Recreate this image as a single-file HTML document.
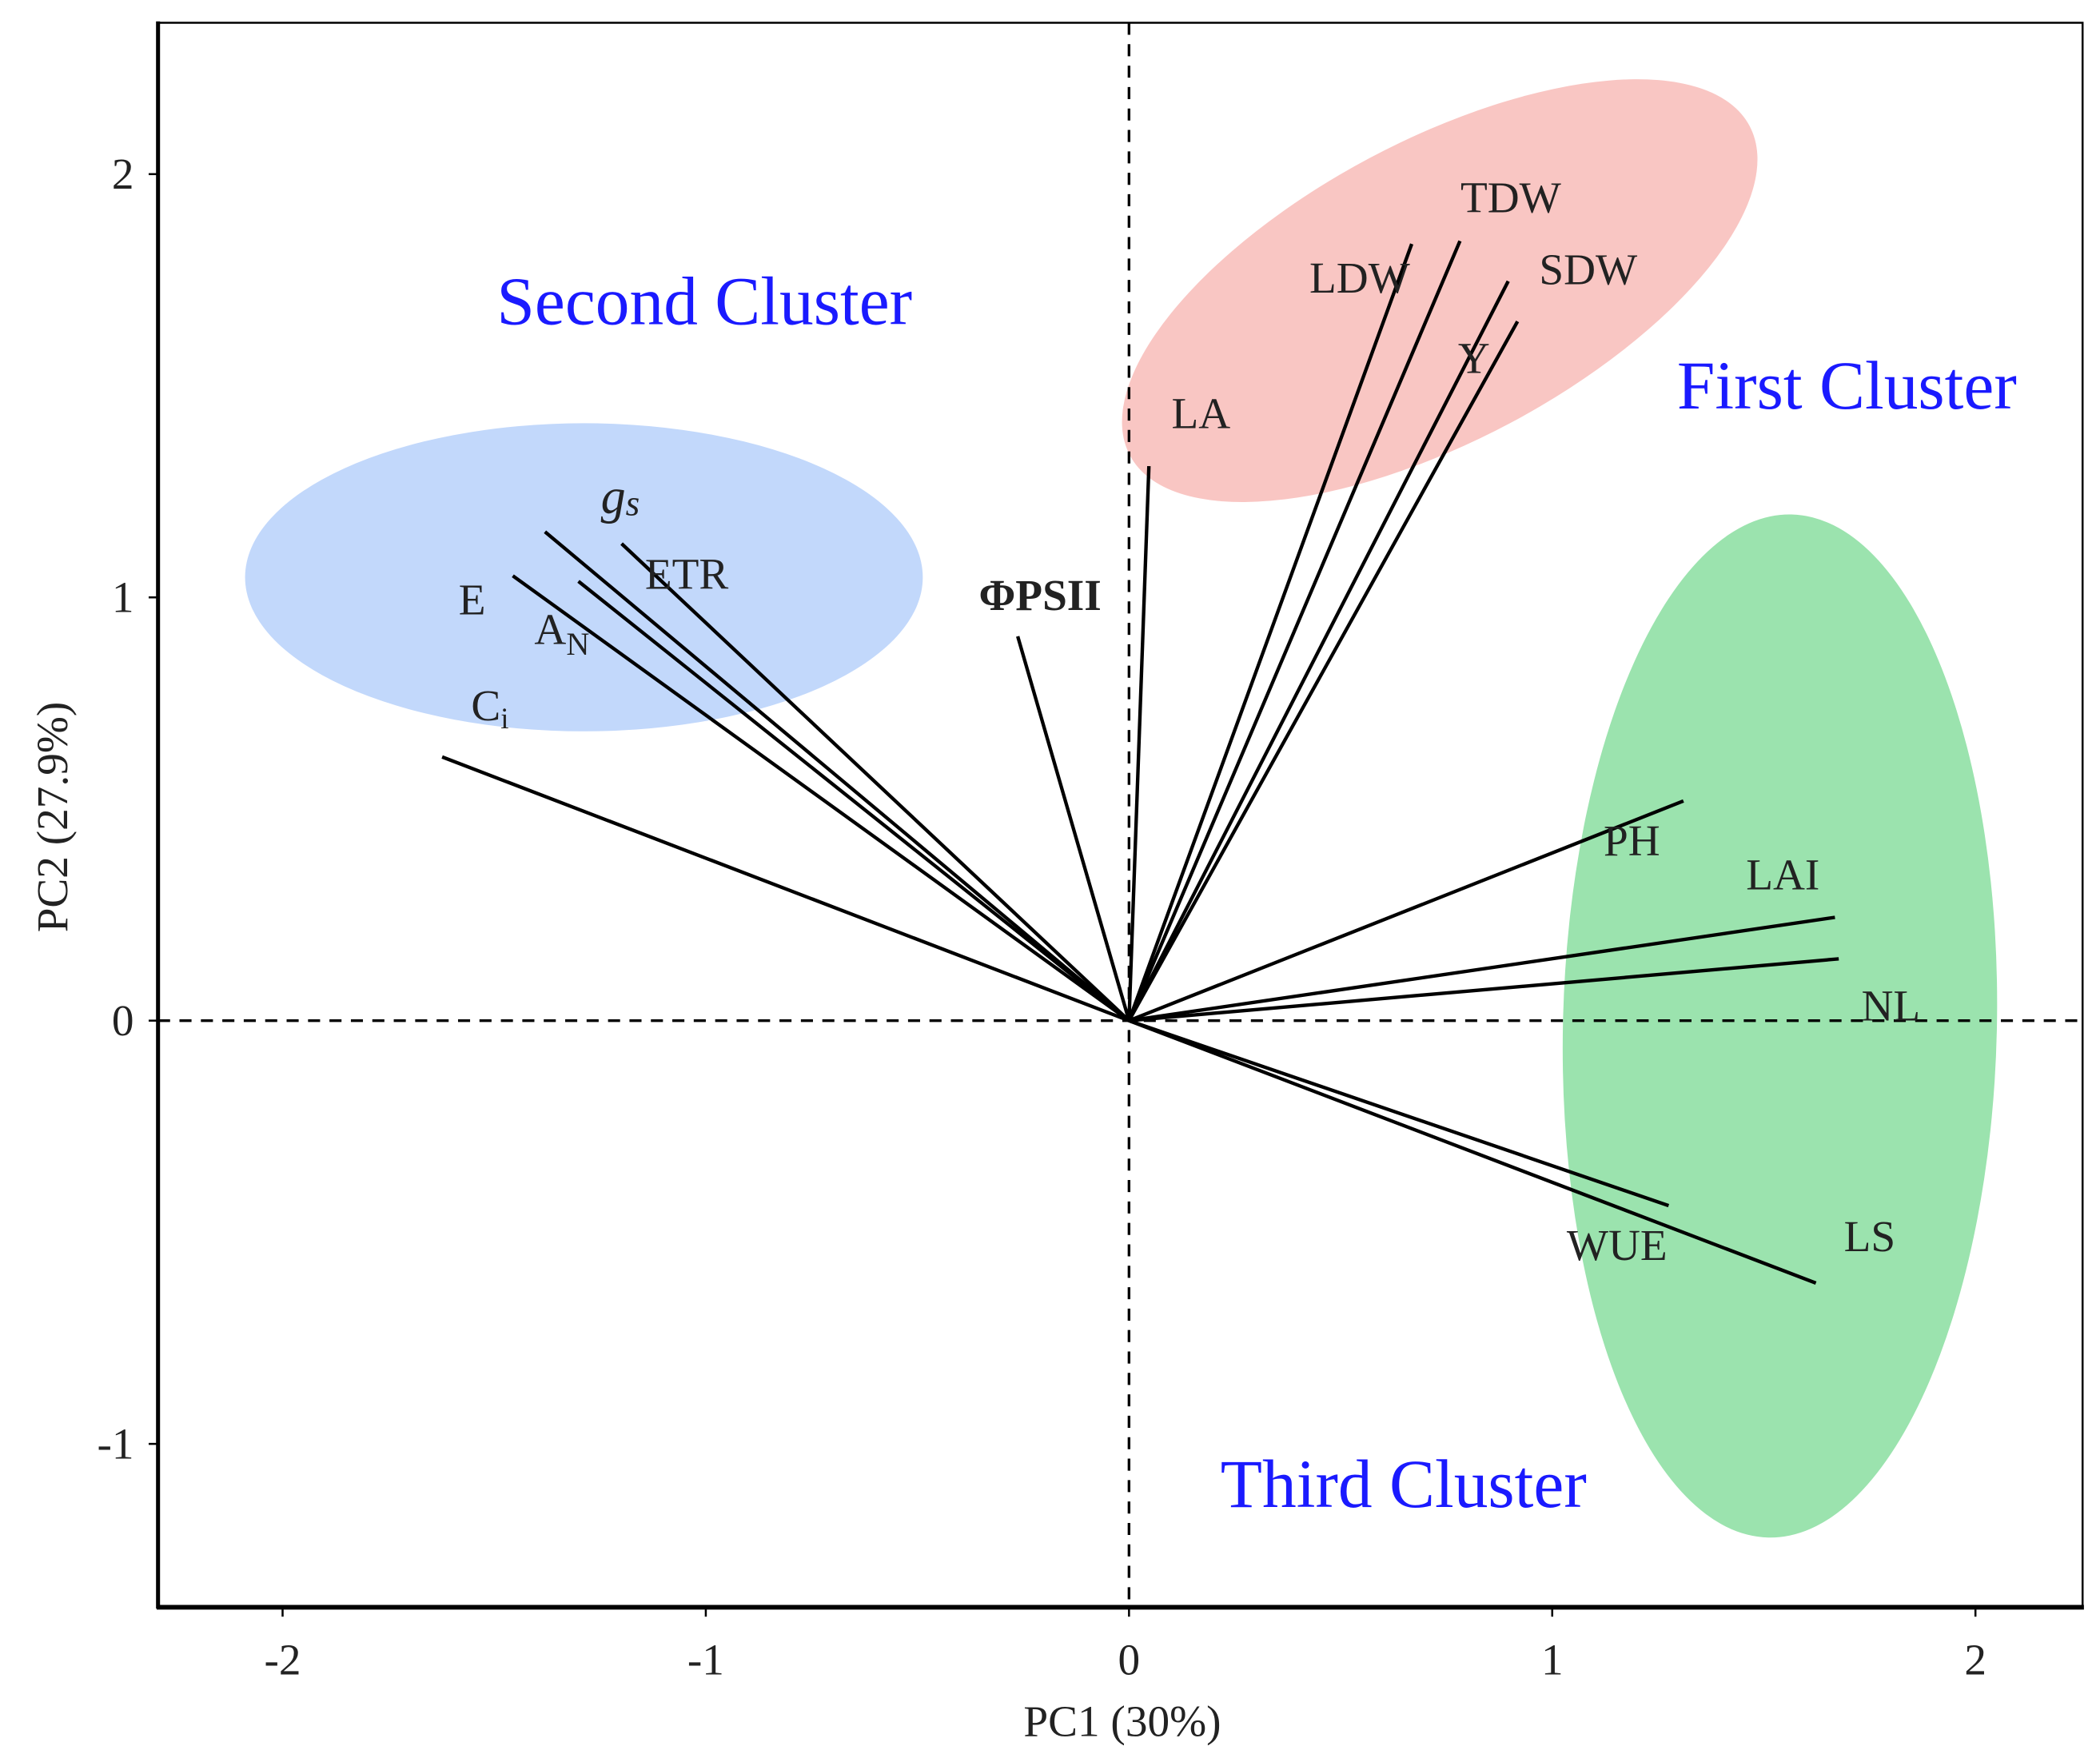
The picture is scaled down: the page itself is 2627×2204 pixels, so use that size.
<!DOCTYPE html>
<html><head><meta charset="utf-8"><style>html,body{margin:0;padding:0;background:#fff}svg{display:block}</style></head>
<body>
<svg id="chart" xmlns="http://www.w3.org/2000/svg" width="2627" height="2204" viewBox="0 0 1568 1315.5" preserveAspectRatio="none" font-family="'Liberation Serif', serif">
<rect x="0" y="0" width="1568" height="1316" fill="#fff"/>
<g id="ellipses"></g>
<g id="grid"></g>
<g id="vectors"></g>
<g id="labels"></g>
<g id="axes"></g>
</svg>
<script>
const varNames = ["Ci","E","gs","AN","ETR","PSII","LA","LDW","TDW","SDW","Y","PH","LAI","NL","WUE","LS"];
const pc1 = [-1.623,-1.456,-1.380,-1.301,-1.199,-0.263,0.047,0.668,0.782,0.896,0.918,1.310,1.668,1.677,1.275,1.623];
const pc2 = [0.623,1.051,1.155,1.038,1.127,0.908,1.310,1.835,1.842,1.747,1.652,0.519,0.244,0.146,-0.437,-0.620];
const xTicks = [-2,-1,0,1,2];
const yTicks = [-1,0,1,2];
// label anchor positions in data units
const labelX = [-1.51,-1.552,-1.202,-1.34,-1.045,-0.21,0.17,0.545,0.902,1.085,0.815,1.188,1.545,1.8,1.153,1.75];
const labelY = [0.71,0.96,1.2,0.89,1.02,0.97,1.4,1.72,1.91,1.74,1.53,0.39,0.31,0.0,-0.565,-0.545];

const X0=843, UX=316, Y0=762, UY=316;
const sx = v => X0 + v*UX;
const sy = v => Y0 - v*UY;
const NS="http://www.w3.org/2000/svg";
function mk(tag, parent, attrs){const e=document.createElementNS(NS,tag);for(const k in attrs)e.setAttribute(k,attrs[k]);parent.appendChild(e);return e;}

const ge=document.getElementById('ellipses');
let e1=mk('ellipse',ge,{cx:436,cy:431,rx:253,ry:115,fill:'#c2d8fb'});


let e2=mk('ellipse',ge,{cx:1075,cy:217,rx:262,ry:112,fill:'#f9c6c3',transform:'rotate(-28 1075 217)'});


let e3=mk('ellipse',ge,{cx:1329,cy:766,rx:162,ry:382,fill:'#9be3ae',transform:'rotate(1.3 1329 766)'});



const gg=document.getElementById('grid');
let hz=mk('line',gg,{x1:118,x2:1555,y1:sy(0),y2:sy(0),stroke:'#000','stroke-width':2,'stroke-dasharray':'9,7'});


let vt=mk('line',gg,{x1:sx(0),x2:sx(0),y1:17,y2:1200,stroke:'#000','stroke-width':2,'stroke-dasharray':'9,7'});



const gv=document.getElementById('vectors');
for(let i=0;i<varNames.length;i++){
  const l=mk('line',gv,{x1:sx(0),y1:sy(0),x2:sx(pc1[i]),y2:sy(pc2[i]),stroke:'#000','stroke-width':2.6});
  
  
}

const gl=document.getElementById('labels');
for(let i=0;i<varNames.length;i++){
  const t=mk('text',gl,{x:sx(labelX[i]),y:sy(labelY[i]),'font-size':33,fill:'#222','text-anchor':'middle'});
  
  
  const n=varNames[i];
  if(n==='Ci'){t.innerHTML='C<tspan font-size="22" dy="6">i</tspan>';}
  else if(n==='AN'){t.innerHTML='A<tspan font-size="24" dy="8">N</tspan>';}
  else if(n==='gs'){t.setAttribute('font-style','italic');t.setAttribute('font-size',37);t.innerHTML='g<tspan font-size="27" dy="2">s</tspan>';}
  else if(n==='PSII'){t.setAttribute('font-weight','bold');t.textContent='ΦPSII';}
  else t.textContent=n;
}
const clusters=[["Second Cluster",526,242,"second-cluster-label"],["First Cluster",1379,305,"first-cluster-label"],["Third Cluster",1048,1125,"third-cluster-label"]];
for(const c of clusters){
  const t=mk('text',gl,{x:c[1],y:c[2],'font-size':51,fill:'#1a1aff','text-anchor':'middle'});
  
  
  t.textContent=c[0];
}

const ga=document.getElementById('axes');
let box=mk('rect',ga,{x:118,y:17,width:1437,height:1183,fill:'none',stroke:'#000','stroke-width':1.5});


let la=mk('line',ga,{x1:118,x2:118,y1:16,y2:1201,stroke:'#000','stroke-width':3});


let ba=mk('line',ga,{x1:117,x2:1556,y1:1200,y2:1200,stroke:'#000','stroke-width':3.5});


for(const v of xTicks){
  const tk=mk('line',ga,{x1:sx(v),x2:sx(v),y1:1200,y2:1207,stroke:'#000','stroke-width':1.5});
  
  
  const t=mk('text',ga,{x:sx(v),y:1250,'font-size':33,fill:'#222','text-anchor':'middle'});
  
  
  t.textContent=v;
}
for(const v of yTicks){
  const tk=mk('line',ga,{x1:111,x2:118,y1:sy(v),y2:sy(v),stroke:'#000','stroke-width':1.5});
  
  
  const t=mk('text',ga,{x:100,y:sy(v)+11,'font-size':33,fill:'#222','text-anchor':'end'});
  
  
  t.textContent=v;
}
let xt=mk('text',ga,{x:838,y:1296,'font-size':33,fill:'#222','text-anchor':'middle'});


xt.textContent='PC1 (30%)';
let yt=mk('text',ga,{x:50,y:610,'font-size':33,fill:'#222','text-anchor':'middle',transform:'rotate(-90 50 610)'});


yt.textContent='PC2 (27.9%)';
</script>
</body></html>
